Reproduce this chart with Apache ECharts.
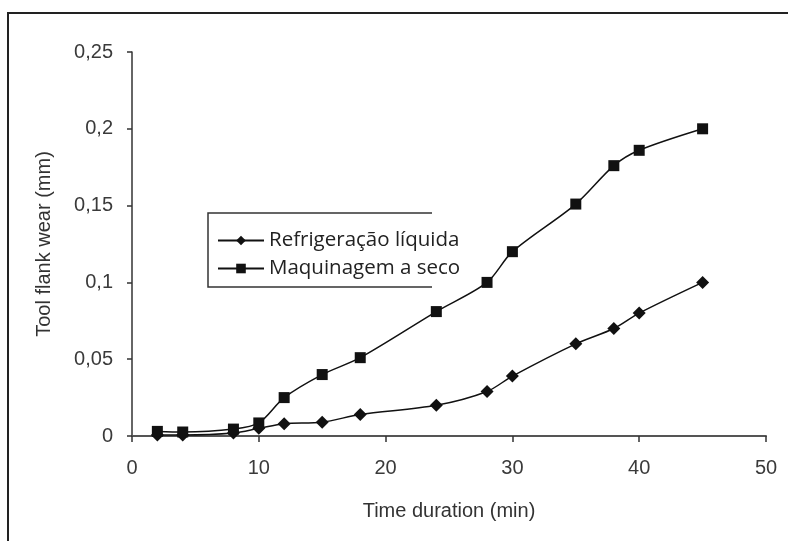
<!DOCTYPE html>
<html>
<head>
<meta charset="utf-8">
<script src="https://cdn.jsdelivr.net/npm/echarts@6/dist/echarts.min.js"></script>
<style>html,body{margin:0;padding:0;background:#fff;}#c{width:788px;height:541px;}</style>
</head>
<body>
<div id="c"></div>
<script>
var timeMin = [2, 4, 8, 10, 12, 15, 18, 24, 28, 30, 35, 38, 40, 45];
var refrigeracao = [0.0007, 0.0007, 0.002, 0.005, 0.008, 0.009, 0.014, 0.02, 0.029, 0.039, 0.06, 0.07, 0.08, 0.1];
var maquinagem = [0.003, 0.0026, 0.0045, 0.0085, 0.025, 0.04, 0.051, 0.081, 0.1, 0.12, 0.151, 0.176, 0.186, 0.2];
var seriesNames = ['Refrigeração líquida', 'Maquinagem a seco'];
var xTitle = 'Time duration (min)';
var yTitle = 'Tool flank wear (mm)';

function pairs(xs, ys) { return xs.map(function (x, i) { return [x, ys[i]]; }); }
var font = 'Liberation Sans, Arial, sans-serif';
var chart = echarts.init(document.getElementById('c'), null, { renderer: 'canvas' });
chart.setOption({
  backgroundColor: '#ffffff',
  animation: false,
  grid: { left: 132, right: 22, top: 52, bottom: 105, containLabel: false },
  xAxis: {
    type: 'value', min: 0, max: 50, interval: 10,
    name: xTitle, nameLocation: 'middle', nameGap: 65,
    nameTextStyle: { fontFamily: font, fontSize: 20, color: '#333' },
    axisLine: { show: true, onZero: false, lineStyle: { color: '#555', width: 2 } },
    axisTick: { show: true, inside: false, length: 6, lineStyle: { color: '#333', width: 1.5 } },
    axisLabel: { fontFamily: font, fontSize: 20, color: '#3a3a3a', margin: 22 },
    splitLine: { show: false }
  },
  yAxis: {
    type: 'value', min: 0, max: 0.25, interval: 0.05,
    name: yTitle, nameLocation: 'middle', nameGap: 78,
    nameTextStyle: { fontFamily: font, fontSize: 20, color: '#333' },
    axisLine: { show: true, lineStyle: { color: '#333', width: 1.5 } },
    axisTick: { show: true, inside: false, length: 5, lineStyle: { color: '#333', width: 1.5 } },
    axisLabel: { fontFamily: font, fontSize: 20, color: '#3a3a3a', margin: 19,
      formatter: function (v) { return String(Math.round(v * 100) / 100).replace('.', ','); } },
    splitLine: { show: false }
  },
  legend: {
    orient: 'vertical', left: 212, top: 225, itemWidth: 46, itemHeight: 12, itemGap: 7,
    textStyle: { fontFamily: 'Open Sans, sans-serif', fontSize: 20.5, color: '#222' },
    data: seriesNames
  },
  graphic: [
    { type: 'polyline', shape: { points: [[8, 541], [8, 13], [788, 13]] }, style: { stroke: '#222', lineWidth: 2, fill: null } },
    { type: 'polyline', shape: { points: [[432, 213], [208, 213], [208, 287], [432, 287]] }, style: { stroke: '#333', lineWidth: 1.5, fill: null } }
  ],
  series: [
    {
      name: seriesNames[0], type: 'line', data: pairs(timeMin, refrigeracao), smooth: 0.3,
      symbol: 'diamond', symbolSize: 13,
      lineStyle: { color: '#111', width: 1.5 }, itemStyle: { color: '#111' }
    },
    {
      name: seriesNames[1], type: 'line', data: pairs(timeMin, maquinagem), smooth: 0.3,
      symbol: 'rect', symbolSize: 11,
      lineStyle: { color: '#111', width: 1.5 }, itemStyle: { color: '#111' }
    }
  ]
});
</script>
</body>
</html>
